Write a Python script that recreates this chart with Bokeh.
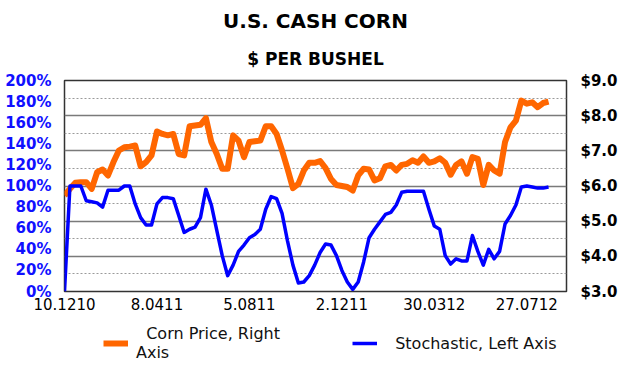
from bokeh.plotting import figure
from bokeh.layouts import column
from bokeh.models import (Range1d, LinearAxis, FixedTicker, PrintfTickFormatter,
                          Legend, LegendItem, Title, ColumnDataSource)
from bokeh.embed import file_html
from bokeh.resources import INLINE

# Weekly cash corn price ($ per bushel), right axis
price = [5.73, 5.92, 6.09, 6.11, 6.11, 5.92, 6.39, 6.47, 6.30, 6.68,
         7.01, 7.10, 7.12, 7.15, 6.56, 6.68, 6.87, 7.55, 7.48, 7.44,
         7.48, 6.91, 6.87, 7.70, 7.72, 7.74, 7.93, 7.25, 6.91, 6.49,
         6.49, 7.44, 7.29, 6.82, 7.25, 7.27, 7.29, 7.70, 7.70, 7.48,
         7.01, 6.49, 5.94, 6.06, 6.44, 6.66, 6.66, 6.71, 6.51, 6.20,
         6.03, 6.00, 5.97, 5.87, 6.30, 6.49, 6.47, 6.16, 6.22, 6.56,
         6.60, 6.44, 6.60, 6.63, 6.73, 6.66, 6.84, 6.66, 6.70, 6.79,
         6.66, 6.32, 6.60, 6.70, 6.35, 6.82, 6.77, 6.03, 6.60, 6.44,
         6.35, 7.25, 7.67, 7.86, 8.43, 8.34, 8.38, 8.24, 8.36, 8.40]

# Stochastic (%), left axis
stoch = [0, 100, 100, 100, 86, 85, 84, 80, 96, 96,
         96, 100, 100, 83, 70, 63, 63, 83, 89, 89,
         88, 72, 56, 59, 61, 70, 97, 82, 58, 34,
         15, 25, 38, 44, 51, 54, 59, 78, 90, 88,
         74, 48, 25, 8, 9, 15, 25, 37, 45, 44,
         34, 20, 9, 2, 9, 28, 51, 59, 66, 73,
         75, 82, 94, 95, 95, 95, 95, 78, 62, 59,
         34, 26, 31, 29, 29, 53, 38, 25, 40, 31,
         38, 64, 72, 82, 99, 100, 99, 98, 98, 99]

x_tick_idx = [0, 17, 34, 51, 68, 85]
x_tick_labels = ["10.1210", "8.0411", "5.0811", "2.1211", "30.0312", "27.0712"]
price_ticks = [3, 4, 5, 6, 7, 8, 9]
price_half_ticks = [3.5, 4.5, 5.5, 6.5, 7.5, 8.5]
stoch_ticks = [0, 20, 40, 60, 80, 100, 120, 140, 160, 180, 200]
legend_labels = ["\u00a0\u00a0Corn Price, Right\nAxis", "\u00a0\u00a0Stochastic, Left Axis"]

PRICE_COLOR = "#ff6600"
STOCH_COLOR = "#0000ff"

weeks = list(range(len(price)))
src = ColumnDataSource(dict(week=weeks, price=price, stoch=stoch))

FONT = "DejaVu Sans"

p = figure(width=620, height=320, output_backend="svg", toolbar_location=None,
           x_range=Range1d(0, 92.3), y_range=Range1d(3, 9),
           y_axis_location="right",
           min_border_left=64, min_border_right=50, min_border_top=80,
           min_border_bottom=29, background_fill_color="white",
           border_fill_color="white")
p.outline_line_color = "#333333"
p.outline_line_width = 1.5

p.extra_y_ranges = {"stoch": Range1d(0, 200)}
left = LinearAxis(y_range_name="stoch", ticker=FixedTicker(ticks=stoch_ticks),
                  formatter=PrintfTickFormatter(format="%d%%"))
p.add_layout(left, "left")

for ax in p.yaxis:
    ax.axis_line_color = None
    ax.major_tick_line_color = None
    ax.minor_tick_line_color = None
    ax.major_label_text_font = FONT
    ax.major_label_text_font_style = "bold"
    ax.major_label_text_font_size = "15px"
    ax.major_label_standoff = 7
left.major_label_text_color = "#1010ff"
for ax in p.yaxis:
    if ax.y_range_name == "default":
        ax.ticker = FixedTicker(ticks=price_ticks)
        ax.formatter = PrintfTickFormatter(format="$%.1f")
        ax.major_label_text_color = "black"
        ax.major_label_standoff = 8

xa = p.xaxis[0]
xa.ticker = FixedTicker(ticks=x_tick_idx)
xa.major_label_overrides = {i: s for i, s in zip(x_tick_idx, x_tick_labels)}
xa.axis_line_color = None
xa.major_tick_line_color = None
xa.minor_tick_line_color = None
xa.major_label_text_font = FONT
xa.major_label_text_font_size = "15px"
xa.major_label_standoff = 0
xa.major_label_text_color = "black"

p.xgrid.grid_line_color = None
p.ygrid.ticker = FixedTicker(ticks=price_ticks, minor_ticks=price_half_ticks)
p.ygrid.grid_line_color = "#7a7a7a"
p.ygrid.grid_line_width = 1.5
p.ygrid.minor_grid_line_color = "#9a9a9a"
p.ygrid.minor_grid_line_width = 1
p.ygrid.minor_grid_line_dash = "2 2"

p.line("week", "price", source=src, line_color=PRICE_COLOR, line_width=6,
       line_join="round")
p.line("week", "stoch", source=src, y_range_name="stoch",
       line_color=STOCH_COLOR, line_width=3.5, line_join="round")

p.add_layout(Title(text="$ PER BUSHEL", align="center", text_font=FONT,
                   text_color="black", text_font_size="17px",
                   text_font_style="bold", standoff=24), "above")
p.add_layout(Title(text="U.S. CASH CORN", align="center", text_font=FONT,
                   text_color="black", text_font_size="20px",
                   text_font_style="bold", standoff=4), "above")

# legend strip below the chart (its own frame spans the full width)
lf = figure(width=620, height=49, output_backend="svg", toolbar_location=None,
            x_axis_type=None, y_axis_type=None, min_border=0,
            min_border_left=0, min_border_right=0, min_border_top=0,
            min_border_bottom=0, background_fill_color="white",
            border_fill_color="white",
            x_range=Range1d(0, 1), y_range=Range1d(-2, -1))
try:
    lf.frame_align = False
except Exception:
    pass
lf.outline_line_color = None
lf.grid.grid_line_color = None
# legend swatches reuse the series styling (data lies outside this strip's view)
sw_price = lf.line("week", "price", source=src, line_color=PRICE_COLOR, line_width=6)
sw_stoch = lf.line("week", "stoch", source=src, line_color=STOCH_COLOR, line_width=3.5)

legend = Legend(items=[LegendItem(label=legend_labels[0], renderers=[sw_price]),
                       LegendItem(label=legend_labels[1], renderers=[sw_stoch])],
                orientation="horizontal", location=(103, 7),
                label_text_font=FONT, label_text_font_size="16px",
                label_text_color="#111111",
                glyph_width=25, glyph_height=14, label_standoff=8, spacing=72,
                padding=2, margin=0, border_line_color=None,
                background_fill_alpha=0)
lf.add_layout(legend)

open("out.html", "w").write(file_html(column(p, lf, spacing=0), INLINE))
